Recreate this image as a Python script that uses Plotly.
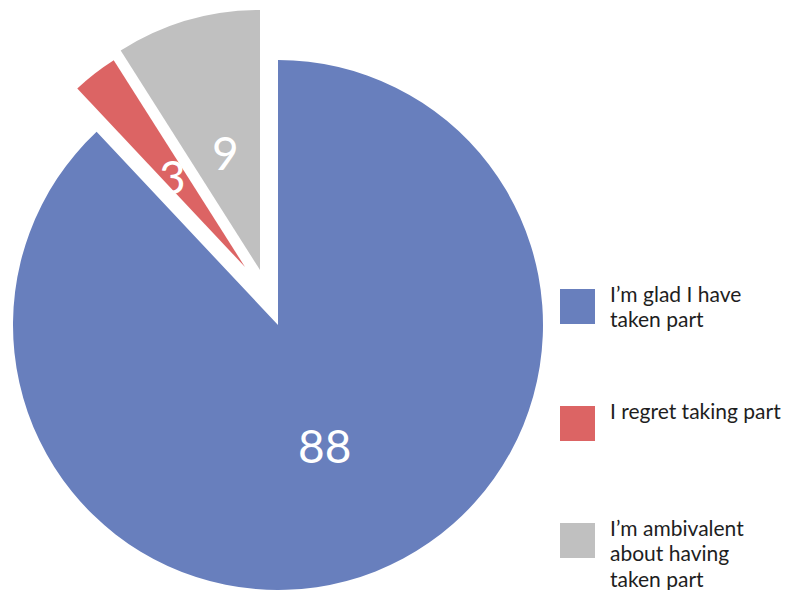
import math
import plotly.graph_objects as go

# Survey answers
labels = [
    "I’m glad I have taken part",
    "I regret taking part",
    "I’m ambivalent about having taken part",
]
legend_lines = [
    ["I’m glad I have", "taken part"],
    ["I regret taking part"],
    ["I’m ambivalent", "about having", "taken part"],
]
values = [88, 3, 9]
colors = ["#687fbd", "#dc6464", "#c0c0c0"]

W, H = 794, 590
FONT = "Lato"

# Each wedge is drawn by its own pie (exploded look): centre x, centre y, radius in px
wedge_geom = [(278, 325, 265), (245, 267, 245), (260, 270, 260)]
LABEL_RADIUS = 0.48  # value labels sit on the wedge bisector at this fraction of r

fig = go.Figure()
annotations = []
total = sum(values)
start = 0.0
for i, (cx, cy, r) in enumerate(wedge_geom):
    dom_x = [max(0, (cx - r) / W), min(1, (cx + r) / W)]
    dom_y = [max(0, 1 - (cy + r) / H), min(1, 1 - (cy - r) / H)]
    fig.add_trace(go.Pie(
        labels=labels,
        values=values,
        sort=False,
        direction="clockwise",
        rotation=0,
        marker=dict(colors=[c if j == i else "rgba(0,0,0,0)" for j, c in enumerate(colors)],
                    line=dict(width=0)),
        textinfo="none",
        hoverinfo="label+value",
        showlegend=False,
        domain=dict(x=dom_x, y=dom_y),
    ))
    # value label on the bisector of this wedge (clockwise from 12 o'clock)
    mid = 2 * math.pi * (start + values[i] / 2) / total
    start += values[i]
    lx = cx + LABEL_RADIUS * r * math.sin(mid)
    ly = cy - LABEL_RADIUS * r * math.cos(mid) + 2
    annotations.append(dict(
        text=str(values[i]), xref="paper", yref="paper",
        x=lx / W, y=1 - ly / H, xanchor="center", yanchor="middle",
        showarrow=False,
        font=dict(family=FONT, size=46, color="white"),
    ))

# Legend: big colour squares with wrapped labels beside them (one text per line)
sq_x0, sq_size, txt_x = 560, 35, 609
sq_tops = [289, 406, 523]
leg_font = 21
ascent = 0.987 * leg_font
first_baseline_offset, line_pitch = 12, 25.2
shapes = []
for k, lines in enumerate(legend_lines):
    top = sq_tops[k]
    shapes.append(dict(
        type="rect", xref="paper", yref="paper",
        x0=sq_x0 / W, x1=(sq_x0 + sq_size) / W,
        y0=1 - (top + sq_size) / H, y1=1 - top / H,
        fillcolor=colors[k], line=dict(width=0),
    ))
    for n, line in enumerate(lines):
        baseline = top + first_baseline_offset + n * line_pitch
        annotations.append(dict(
            text=line, xref="paper", yref="paper",
            x=txt_x / W, y=1 - (baseline - ascent) / H,
            xanchor="left", yanchor="top", align="left",
            showarrow=False, borderpad=0,
            font=dict(family=FONT, size=leg_font, color="#1e1e1e"),
        ))

fig.update_layout(
    width=W, height=H,
    margin=dict(l=0, r=0, t=0, b=0),
    paper_bgcolor="white",
    plot_bgcolor="white",
    shapes=shapes,
    annotations=annotations,
)

fig.write_html("out.html")
